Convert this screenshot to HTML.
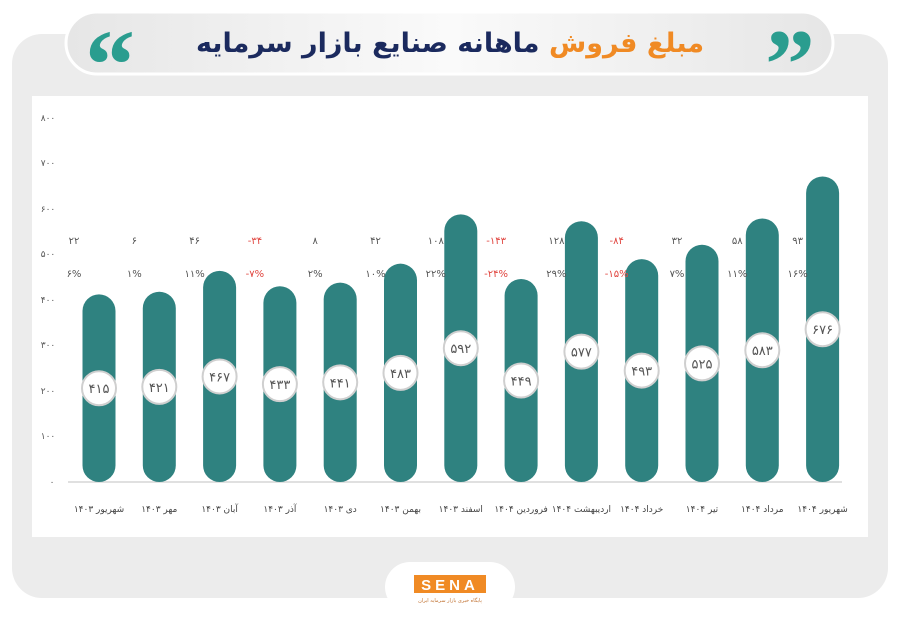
<!DOCTYPE html>
<html><head><meta charset="utf-8"><style>
body{margin:0;width:900px;height:623px;background:#fff;overflow:hidden;font-family:"DejaVu Sans","Noto Sans CJK SC",sans-serif}
.o{unicode-bidi:bidi-override;direction:ltr}
</style></head><body>
<svg width="900" height="623" viewBox="0 0 900 623" xmlns="http://www.w3.org/2000/svg" font-family="DejaVu Sans, sans-serif">
<defs>
<linearGradient id="pill" x1="0" y1="0" x2="1" y2="0"><stop offset="0" stop-color="#e6e6e6"/><stop offset="0.5" stop-color="#fafafa"/><stop offset="1" stop-color="#e6e6e6"/></linearGradient>
</defs>
<rect x="12" y="34" width="876" height="564" rx="30" fill="#ececec"/>
<rect x="32" y="96" width="836" height="441" fill="#fff"/>
<rect x="66" y="12" width="767" height="62" rx="31" fill="url(#pill)" stroke="#fff" stroke-width="3"/>
<text x="450" y="52" text-anchor="middle" direction="rtl" font-size="27" font-weight="bold" fill="#1b2a5e" letter-spacing="-1"><tspan fill="#f08a24">مبلغ فروش</tspan> ماهانه صنایع بازار سرمایه</text>
<text x="110" y="98" text-anchor="middle" font-size="100" font-weight="bold" fill="#2a9d8f" font-family="Liberation Serif, serif">“</text>
<text x="790" y="98" text-anchor="middle" font-size="100" font-weight="bold" fill="#2a9d8f" font-family="Liberation Serif, serif">”</text>
<rect x="385" y="562" width="130" height="50" rx="25" fill="#fff"/>
<rect x="414" y="575" width="72" height="18" fill="#f08a24"/>
<text x="450" y="590" text-anchor="middle" font-size="15" font-weight="bold" fill="#fff" letter-spacing="4" font-family="Liberation Sans, sans-serif">SENA</text>
<text x="450" y="602" text-anchor="middle" font-size="5" fill="#c07030">پایگاه خبری بازار سرمایه ایران</text>
<g font-size="9" fill="#555" text-anchor="middle">
<text x="48" y="121">۸۰۰</text><text x="48" y="212">۶۰۰</text><text x="48" y="166">۷۰۰</text>
<text x="48" y="257">۵۰۰</text><text x="48" y="303">۴۰۰</text><text x="48" y="348">۳۰۰</text>
<text x="48" y="394">۲۰۰</text><text x="48" y="439">۱۰۰</text><text x="52" y="485">۰</text>
</g>
<line x1="68" y1="482" x2="842" y2="482" stroke="#d5d5d5" stroke-width="1.5"/>
<g id="bars"></g>
</svg>
<script>
const fa=s=>String(s).replace(/\d/g,d=>'۰۱۲۳۴۵۶۷۸۹'[d]);
const v=[415,421,467,433,441,483,592,449,577,493,525,583,676];
const df=[22,6,46,-34,8,42,108,-143,128,-84,32,58,93];
const pc=[6,1,11,-7,2,10,22,-24,29,-15,7,11,16];
const nm=['شهریور','مهر','آبان','آذر','دی','بهمن','اسفند','فروردین','اردیبهشت','خرداد','تیر','مرداد','شهریور'];
const yr=['۱۴۰۳','۱۴۰۳','۱۴۰۳','۱۴۰۳','۱۴۰۳','۱۴۰۳','۱۴۰۳','۱۴۰۴','۱۴۰۴','۱۴۰۴','۱۴۰۴','۱۴۰۴','۱۴۰۴'];
let h='';
v.forEach((val,i)=>{
 const cx=99+i*60.3, top=482-val*0.452, w=33;
 h+=`<rect x="${cx-w/2}" y="${top}" width="${w}" height="${482-top}" rx="16.5" fill="#2f8280"/>`;
 const cy=(top+482)/2;
 h+=`<circle cx="${cx}" cy="${cy}" r="17" fill="#fff" stroke="#cfcfcf" stroke-width="2"/>`;
 h+=`<text x="${cx}" y="${cy+5}" text-anchor="middle" font-size="13" fill="#555">${fa(val)}</text>`;
 const neg=df[i]<0, col=neg?'#e0443e':'#555';
 h+=`<text class="o" x="${cx-25}" y="244" text-anchor="middle" font-size="10" fill="${col}">${neg?'-':''}${fa(Math.abs(df[i]))}</text>`;
 h+=`<text class="o" x="${cx-25}" y="277" text-anchor="middle" font-size="10" fill="${col}">${neg?'-':''}${fa(Math.abs(pc[i]))}%</text>`;
 h+=`<text x="${cx}" y="512" text-anchor="middle" direction="rtl" font-size="9" fill="#444" letter-spacing="-0.3">${nm[i]} ${yr[i]}</text>`;
});
document.getElementById('bars').innerHTML=h;
</script>
</body></html>
